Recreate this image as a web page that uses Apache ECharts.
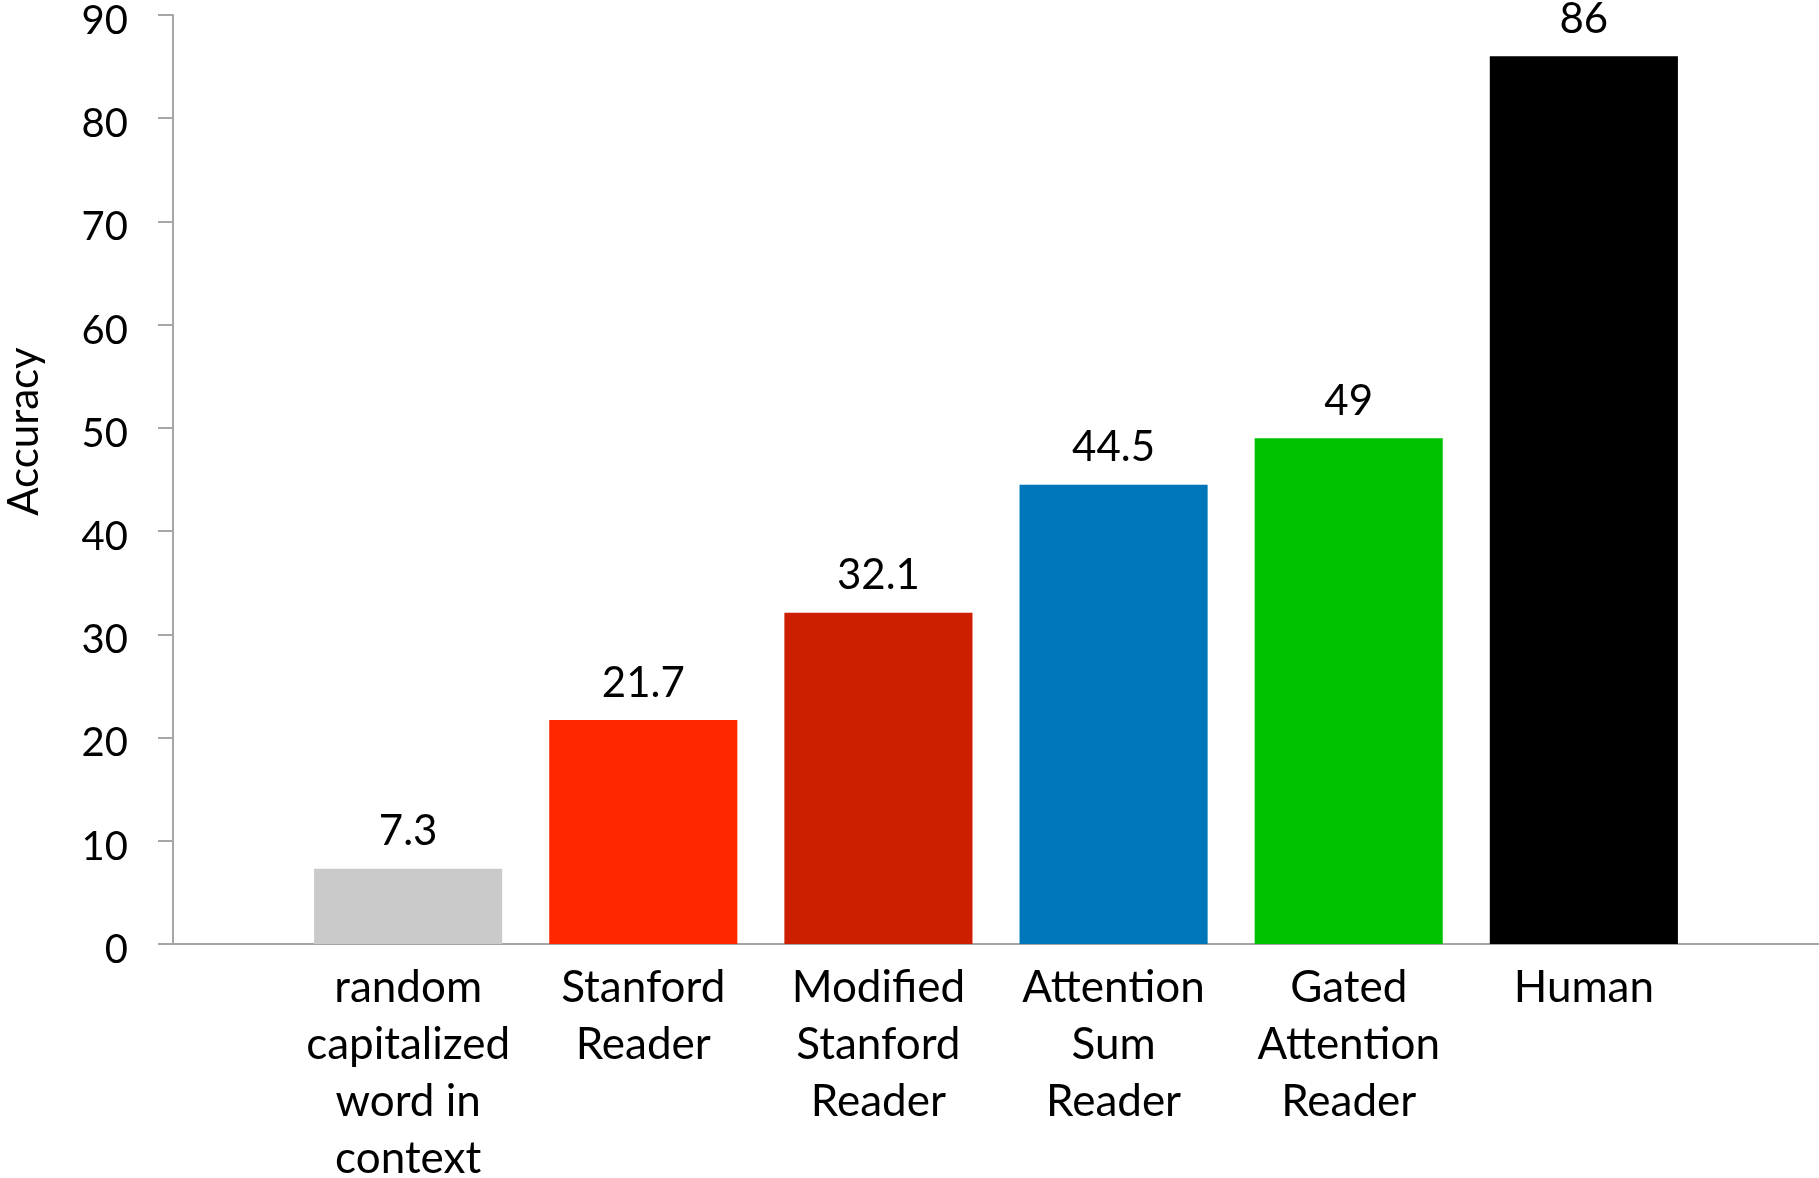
<!DOCTYPE html>
<html>
<head>
<meta charset="utf-8">
<script src="https://cdn.jsdelivr.net/npm/echarts@6/dist/echarts.min.js"></script>
<style>
  html, body { margin: 0; padding: 0; background: #fff; }
  #chart { width: 1819px; height: 1178px; }
</style>
</head>
<body>
<div id="chart"></div>
<script>
// 数据
const categories = [
  "random\ncapitalized\nword in\ncontext",
  "Stanford\nReader",
  "Modified\nStanford\nReader",
  "Attention\nSum\nReader",
  "Gated\nAttention\nReader",
  "Human"
]
const accuracy = [7.3, 21.7, 32.1, 44.5, 49, 86]
const barColors = ["#cacaca", "#ff2600", "#cd1e00", "#0076ba", "#00c200", "#000000"]
const yTicks = [0, 10, 20, 30, 40, 50, 60, 70, 80, 90]

const font = "Lato, 'Open Sans', sans-serif"

// x 轴两端留空位，让柱子落在刻度点上
const xData = [""].concat(categories, [""])
const seriesData = [null].concat(
  accuracy.map((v, i) => ({ value: v, itemStyle: { color: barColors[i] } })),
  [null]
)

const myChart = echarts.init(document.getElementById("chart"))
const option = {
  animation: false,
  grid: {
    left: 173, right: 0, top: 15, bottom: 234,
    containLabel: false,
    outerBoundsMode: "none"
  },
  xAxis: {
    type: "category",
    data: xData,
    boundaryGap: false,
    axisTick: { show: false },
    axisLine: { lineStyle: { color: "#a6a6a6", width: 2 } },
    axisLabel: {
      interval: 0,
      color: "#000",
      fontFamily: font,
      fontSize: 44,
      lineHeight: 57,
      margin: 15
    },
    splitLine: { show: false }
  },
  yAxis: {
    type: "value",
    min: yTicks[0],
    max: yTicks[yTicks.length - 1],
    interval: 10,
    name: "Accuracy",
    nameLocation: "middle",
    nameRotate: 90,
    nameGap: 128,
    nameTextStyle: {
      color: "#000",
      fontFamily: font,
      fontSize: 42,
      padding: [0, 0, 0, 96]
    },
    axisLine: { show: true, lineStyle: { color: "#a6a6a6", width: 2 } },
    axisTick: { show: true, length: 15, lineStyle: { color: "#a6a6a6", width: 2 } },
    axisLabel: {
      margin: 45,
      // 刻度文字略微下移
      formatter: (v) => "{t|" + v + "}",
      rich: {
        t: {
          color: "#000",
          fontFamily: font,
          fontSize: 40,
          padding: [12, 0, 0, 0]
        }
      }
    },
    splitLine: { show: false }
  },
  series: [
    {
      type: "bar",
      data: seriesData,
      barWidth: "80%",
      label: {
        show: true,
        position: "top",
        distance: 16,
        color: "#000",
        fontFamily: font,
        fontSize: 42
      }
    }
  ]
}
myChart.setOption(option)
</script>
</body>
</html>
